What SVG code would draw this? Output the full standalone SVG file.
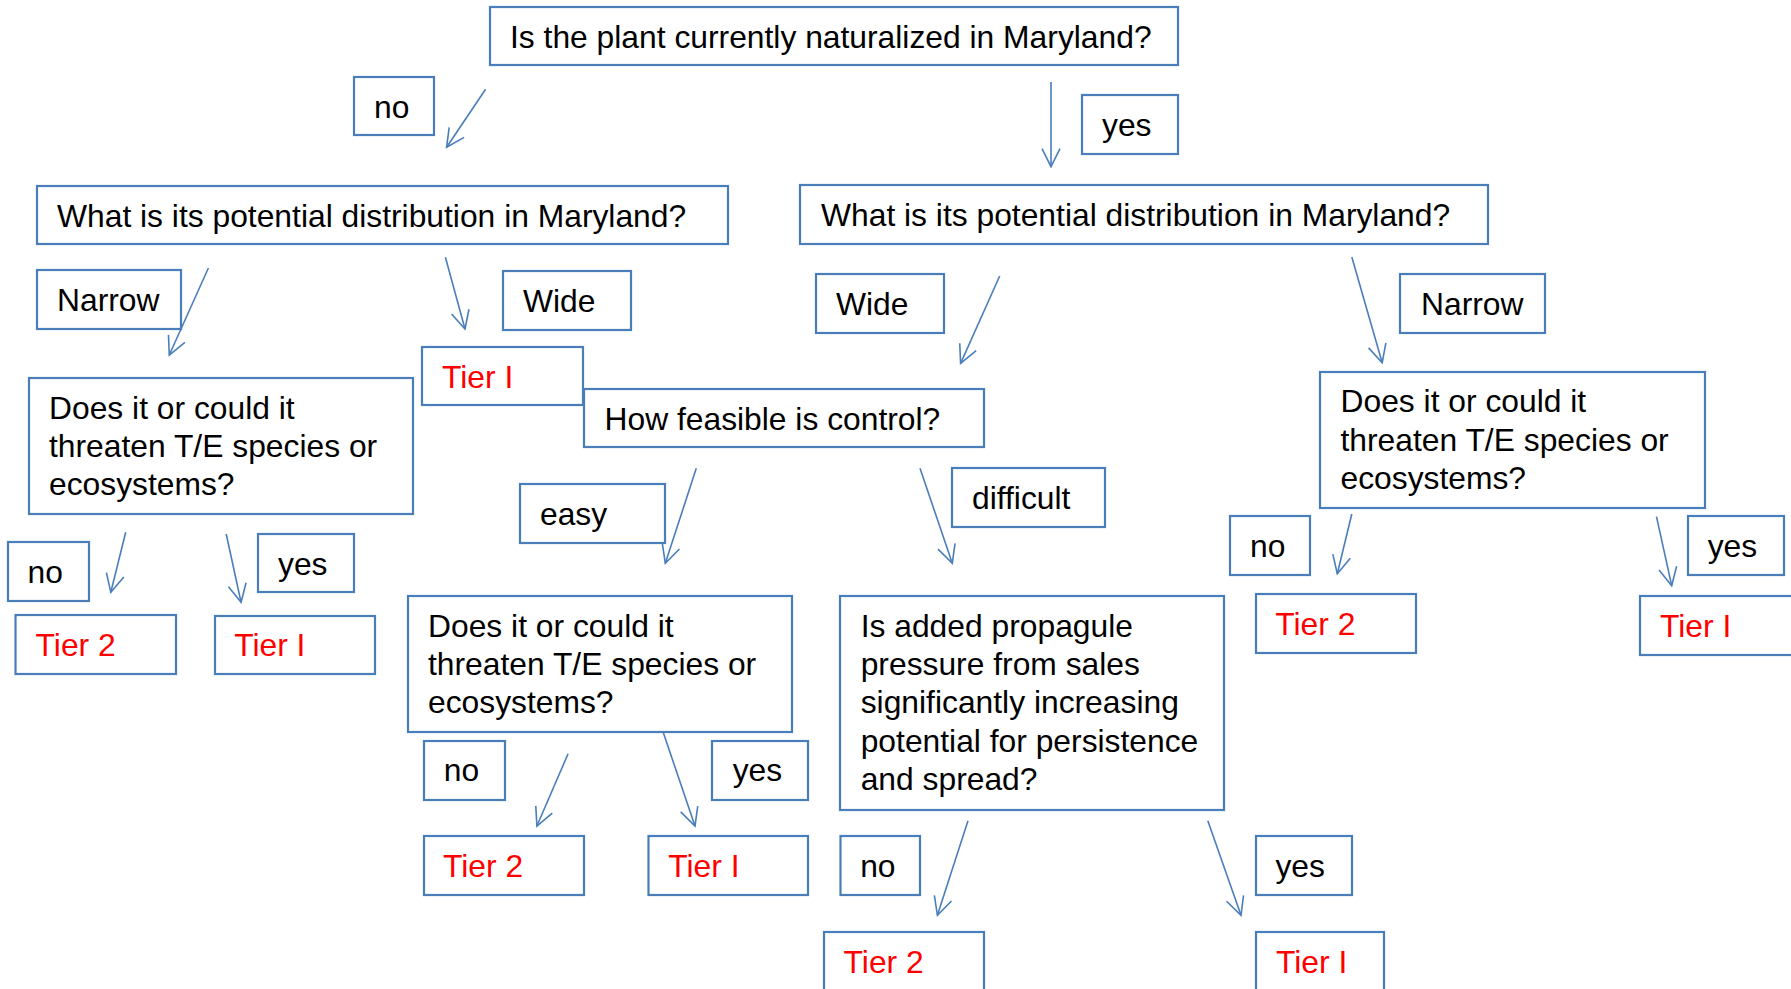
<svg xmlns="http://www.w3.org/2000/svg" width="1791" height="989" viewBox="0 0 1791 989">
<defs>
<style>
rect{fill:#fff;stroke:#4A7EBB;stroke-width:2.2}
text{font-family:"Liberation Sans",Arial,sans-serif;font-size:31.8px;fill:#000}
text.t{fill:#FF0000}
.c line{stroke:#4A7EBB;stroke-width:1.6;marker-end:url(#ah)}
</style>
<marker id="ah" markerUnits="userSpaceOnUse" viewBox="-20 -11 22 22" markerWidth="22" markerHeight="22" refX="0" refY="0" orient="auto">
<path d="M-18,-9 L0,0 L-18,9" fill="none" stroke="#4A7EBB" stroke-width="1.6"/>
</marker>
</defs>
<rect width="1791" height="989" style="fill:#fff;stroke:none"/>
<g class="c" id="connectors">
<line x1="485.6" y1="89.3" x2="446.6" y2="147.3"/>
<line x1="1051" y1="82" x2="1051" y2="166.7"/>
<line x1="208.4" y1="268" x2="169.3" y2="355"/>
<line x1="445.4" y1="257.3" x2="465" y2="329"/>
<line x1="999.7" y1="276" x2="960.6" y2="363.3"/>
<line x1="1351.8" y1="257" x2="1382.2" y2="362.7"/>
<line x1="125.7" y1="532.3" x2="110.8" y2="592.3"/>
<line x1="226.2" y1="534" x2="241.1" y2="602.3"/>
<line x1="696.3" y1="468.3" x2="665.3" y2="563.3"/>
<line x1="920" y1="468.3" x2="952.3" y2="563.3"/>
<line x1="1351.8" y1="514" x2="1337.3" y2="573.7"/>
<line x1="1656.5" y1="516.7" x2="1671.7" y2="585.7"/>
<line x1="568.1" y1="753.7" x2="536.9" y2="826"/>
<line x1="663.2" y1="732.3" x2="695" y2="826"/>
<line x1="968" y1="820.7" x2="937.4" y2="915.3"/>
<line x1="1207.8" y1="820.7" x2="1241" y2="915.3"/>
</g>
<g id="q1"><rect x="490" y="7" width="688" height="58"/><text x="510" y="47.5">Is the plant currently naturalized in Maryland?</text></g>
<g id="no1"><rect x="354" y="77" width="80" height="58"/><text x="374" y="117.5">no</text></g>
<g id="yes1"><rect x="1082" y="95" width="96" height="59"/><text x="1102" y="136">yes</text></g>
<g id="q2L"><rect x="37" y="186" width="691" height="58"/><text x="57" y="226.5">What is its potential distribution in Maryland?</text></g>
<g id="q2R"><rect x="800" y="185" width="688" height="59"/><text x="821" y="226">What is its potential distribution in Maryland?</text></g>
<g id="narrowL"><rect x="37" y="270" width="144" height="59"/><text x="57" y="311">Narrow</text></g>
<g id="wideL"><rect x="503" y="271" width="128" height="59"/><text x="523" y="312">Wide</text></g>
<g id="tierA"><rect x="422" y="347" width="161" height="58"/><text class="t" x="442" y="387.5">Tier I</text></g>
<g id="feasible"><rect x="584" y="389" width="400" height="58"/><text x="604.5" y="429.5">How feasible is control?</text></g>
<g id="wideR"><rect x="816" y="274" width="128" height="59"/><text x="836" y="315">Wide</text></g>
<g id="narrowR"><rect x="1400" y="274" width="145" height="59"/><text x="1421" y="315">Narrow</text></g>
<g id="threatL"><rect x="29" y="378" width="384" height="136"/><text x="49" y="419">Does it or could it</text><text x="49" y="457">threaten T/E species or</text><text x="49" y="495">ecosystems?</text></g>
<g id="threatR"><rect x="1320" y="372" width="385" height="136"/><text x="1340.5" y="412">Does it or could it</text><text x="1340.5" y="450.5">threaten T/E species or</text><text x="1340.5" y="489">ecosystems?</text></g>
<g id="noL2"><rect x="8" y="542" width="81" height="59"/><text x="27.6" y="583">no</text></g>
<g id="yesL2"><rect x="258" y="534" width="96" height="58"/><text x="278" y="574.5">yes</text></g>
<g id="tier2L"><rect x="15.5" y="615" width="160.5" height="59"/><text class="t" x="35.6" y="656">Tier 2</text></g>
<g id="tier1L"><rect x="215" y="616" width="160" height="58"/><text class="t" x="234.2" y="656">Tier I</text></g>
<g id="easy"><rect x="520" y="484" width="145" height="59"/><text x="540" y="525">easy</text></g>
<g id="difficult"><rect x="952" y="468" width="153" height="59"/><text x="972" y="509">difficult</text></g>
<g id="threatM"><rect x="408" y="596" width="384" height="136"/><text x="428" y="637">Does it or could it</text><text x="428" y="675">threaten T/E species or</text><text x="428" y="713">ecosystems?</text></g>
<g id="propagule"><rect x="840" y="596" width="384" height="214"/><text x="860.7" y="637">Is added propagule</text><text x="860.7" y="675">pressure from sales</text><text x="860.7" y="713.3">significantly increasing</text><text x="860.7" y="751.5">potential for persistence</text><text x="860.7" y="790">and spread?</text></g>
<g id="noR2"><rect x="1230" y="516" width="80" height="59"/><text x="1250" y="557">no</text></g>
<g id="yesR2"><rect x="1688" y="516" width="96" height="59"/><text x="1707.7" y="557">yes</text></g>
<g id="tier2R"><rect x="1256" y="594" width="160" height="59"/><text class="t" x="1275.3" y="635">Tier 2</text></g>
<g id="tier1R"><rect x="1640" y="596" width="170" height="59"/><text class="t" x="1660" y="637">Tier I</text></g>
<g id="noM"><rect x="424" y="741" width="81" height="59"/><text x="443.8" y="781">no</text></g>
<g id="yesM"><rect x="712" y="741" width="96" height="59"/><text x="732.7" y="781">yes</text></g>
<g id="tier2M"><rect x="424" y="836" width="160" height="59"/><text class="t" x="443" y="877">Tier 2</text></g>
<g id="tier1M"><rect x="648.5" y="836" width="159.5" height="59"/><text class="t" x="668.3" y="877">Tier I</text></g>
<g id="noB"><rect x="840.5" y="836" width="79.5" height="59"/><text x="860.2" y="877">no</text></g>
<g id="yesB"><rect x="1256" y="836" width="96" height="59"/><text x="1275.4" y="877">yes</text></g>
<g id="tier2B"><rect x="824" y="932" width="160" height="80"/><text class="t" x="843.6" y="973.3">Tier 2</text></g>
<g id="tier1B"><rect x="1256" y="932" width="128" height="80"/><text class="t" x="1276" y="973.3">Tier I</text></g>
</svg>
